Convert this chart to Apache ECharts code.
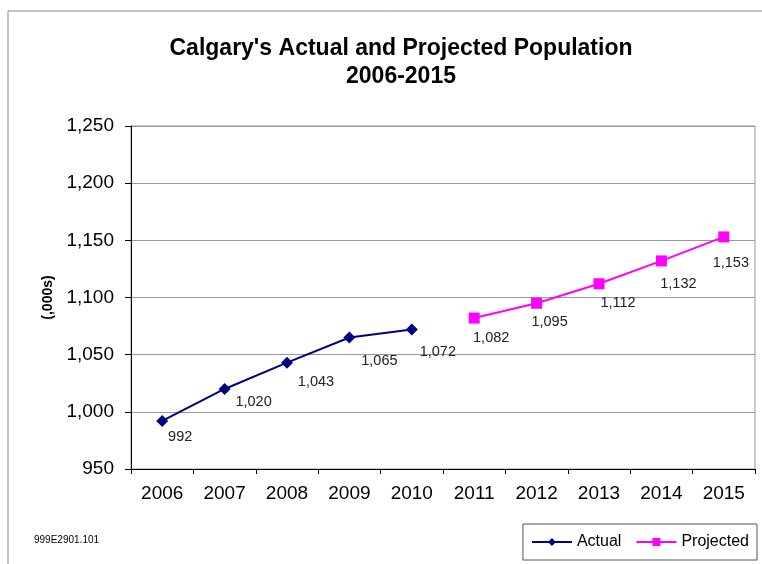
<!DOCTYPE html>
<html><head><meta charset="utf-8">
<script src="https://cdn.jsdelivr.net/npm/echarts@6/dist/echarts.min.js"></script>
<style>html,body{margin:0;padding:0;background:#fff}#c{width:762px;height:564px}</style>
</head><body><div id="c"></div>
<script>
var years = ['2006','2007','2008','2009','2010','2011','2012','2013','2014','2015'];
var actual = [992, 1020, 1043, 1065, 1072, null, null, null, null, null];
var projected = [null, null, null, null, null, 1082, 1095, 1112, 1132, 1153];
var yTicks = {min: 950, max: 1250, interval: 50};
// label placement (style only): offset of each data label from its marker, px
var labelOffsets = [[18,16],[29,13],[29,19],[30,23],[26,22],[17,20],[13,19],[19,19],[17,23],[7,26]];

var chart = echarts.init(document.getElementById('c'), null, {renderer: 'canvas'});
function fmt(v){ return v.toLocaleString('en-US'); }
var baseLabel = {
  show: true, position: 'inside', align: 'center', verticalAlign: 'middle',
  fontFamily: 'Liberation Sans Narrow, Arial Narrow, Liberation Sans, sans-serif', fontSize: 14.5, color: '#222',
  formatter: function(p){ return fmt(p.value); }
};
function withLabels(arr){
  return arr.map(function(v, i){
    if (v == null) return null;
    return {value: v, label: {offset: labelOffsets[i]}};
  });
}
chart.setOption({
  animation: false,
  title: {
    text: "Calgary's Actual and Projected Population\n2006-2015",
    left: 396, top: 30, textAlign: 'center',
    textStyle: {fontFamily: 'Liberation Sans, Arial, sans-serif', fontWeight: 'bold', fontSize: 23, lineHeight: 28, color: '#000'}
  },
  graphic: [
    {type: 'rect', shape: {x: 8, y: 11, width: 800, height: 600}, style: {fill: 'none', stroke: '#888', lineWidth: 1}, z: -1},
    {type: 'text', left: 34, top: 535, style: {text: '999E2901.101', fontFamily: 'Liberation Sans, Arial, sans-serif', fontSize: 10, fill: '#000'}}
  ],
  grid: {left: 131, right: 7, top: 126, bottom: 95, show: true, borderColor: '#999', borderWidth: 1},
  legend: {
    data: ['Actual', 'Projected'],
    right: 5, top: 524,
    padding: [10, 8, 10, 8],
    itemGap: 14, itemWidth: 40, itemHeight: 10,
    borderColor: '#555', borderWidth: 1,
    textStyle: {fontFamily: 'Liberation Sans, Arial, sans-serif', fontSize: 16, color: '#000'}
  },
  xAxis: {
    type: 'category', data: years, boundaryGap: true,
    axisLine: {lineStyle: {color: '#000', width: 1}},
    axisTick: {show: true, length: 5, lineStyle: {color: '#000'}},
    axisLabel: {fontFamily: 'Liberation Sans, Arial, sans-serif', fontSize: 19, color: '#000', margin: 15}
  },
  yAxis: {
    type: 'value', min: yTicks.min, max: yTicks.max, interval: yTicks.interval,
    name: '(,000s)', nameLocation: 'middle', nameGap: 72, nameRotate: 90,
    nameTextStyle: {fontFamily: 'Liberation Sans, Arial, sans-serif', fontWeight: 'bold', fontSize: 14, color: '#000'},
    axisLine: {show: true, lineStyle: {color: '#000', width: 1}},
    axisTick: {show: true, length: 6, lineStyle: {color: '#000'}},
    axisLabel: {fontFamily: 'Liberation Sans, Arial, sans-serif', fontSize: 19, color: '#000', margin: 17, formatter: function(v){ return fmt(v); }},
    splitLine: {show: true, lineStyle: {color: '#999', width: 1}}
  },
  series: [
    {name: 'Actual', type: 'line', data: withLabels(actual), connectNulls: false,
     symbol: 'diamond', symbolSize: 12, color: '#000080',
     lineStyle: {color: '#000080', width: 2}, itemStyle: {color: '#000080'},
     label: baseLabel},
    {name: 'Projected', type: 'line', data: withLabels(projected), connectNulls: false,
     symbol: 'rect', symbolSize: 11, color: '#FF00FF',
     lineStyle: {color: '#FF00FF', width: 2}, itemStyle: {color: '#FF00FF'},
     label: baseLabel}
  ]
});
</script></body></html>
